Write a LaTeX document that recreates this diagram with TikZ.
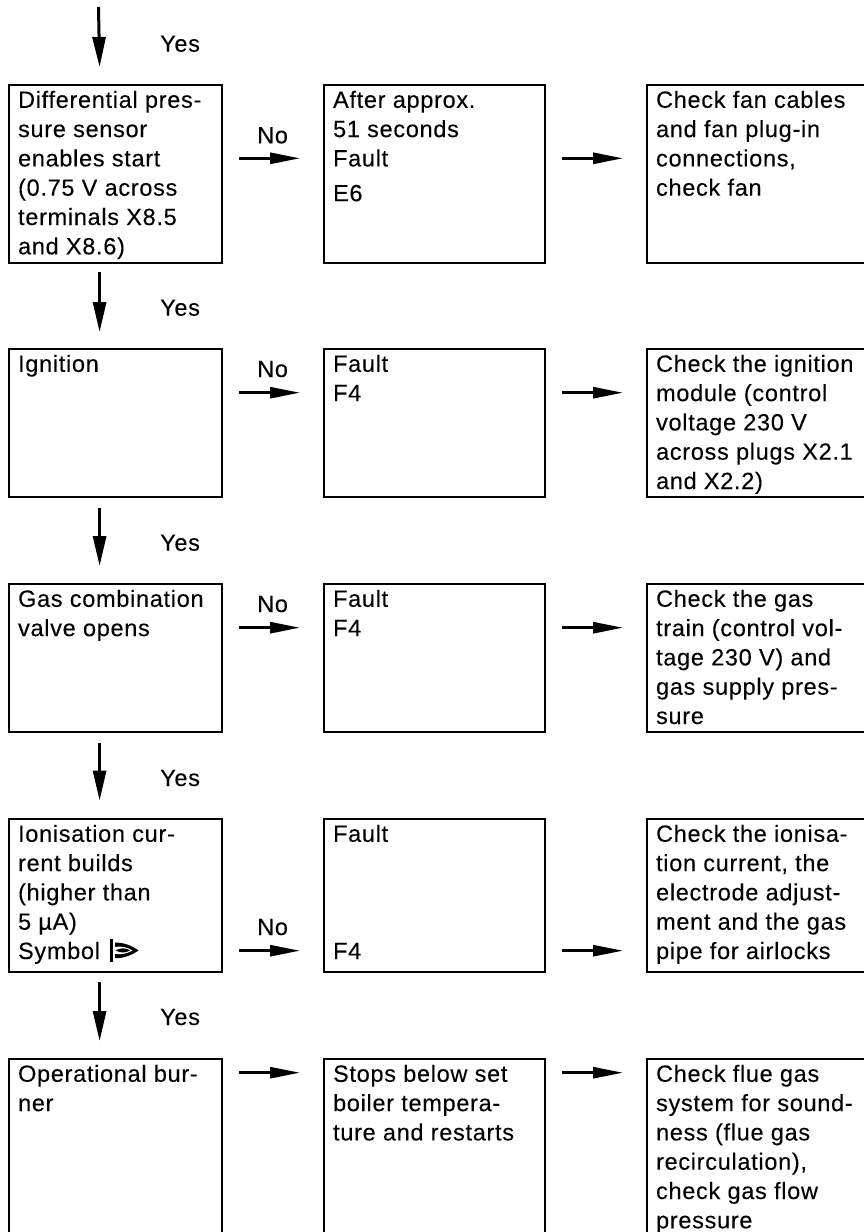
\documentclass[tikz,border=0pt]{standalone}
\usepackage{fontspec}
\setmainfont[LetterSpace=3,FakeBold=0.12]{Liberation Sans}
\usetikzlibrary{arrows.meta}
\newcommand{\boxtxt}[3]{\parbox[c][#1pt][t]{#2pt}{\raggedright\baselineskip=29.3pt\rule{0pt}{22.7pt}#3}}
\tikzset{
  x=1pt,y=-1pt,
  every node/.style={font=\fontsize{23.5pt}{29.3pt}\selectfont,text=black},
  box/.style={draw=black,line width=2.2pt,rectangle,inner xsep=9pt,inner ysep=0pt,anchor=north west,align=left},
  lab/.style={anchor=base west,inner sep=0pt},
  vert/.style={line width=3pt,-{Stealth[length=30pt,width=13pt,inset=0pt]}},
  horz/.style={line width=2.8pt,-{Stealth[length=30pt,width=11pt,inset=0pt]}}
}
\begin{document}
\begin{tikzpicture}
\useasboundingbox (0,0) rectangle (864,1232);
\clip (0,0) rectangle (864,1232);
\fill[white] (0,0) rectangle (864,1232);
% column 1
\node[box] (a1) at (8,84)    {\boxtxt{178}{195}{Differential pres-\\sure sensor\\enables start\\(0.75 V across\\terminals X8.5\\and X8.6)}};
\node[box] (a2) at (8,348)   {\boxtxt{148}{195}{Ignition}};
\node[box] (a3) at (8,583)   {\boxtxt{148}{195}{Gas combination\\valve opens}};
\node[box] (a4) at (8,818)   {\boxtxt{153}{195}{Ionisation cur-\\rent builds\\(higher than\\5 µA)\\Symbol}};
\node[box] (a5) at (8,1058)  {\boxtxt{190}{195}{Operational bur-\\ner}};
% column 2
\node[box] (b1) at (323,84)   {\boxtxt{178}{203}{After approx.\\51 seconds\\Fault\\[5.5pt]E6}};
\node[box] (b2) at (323,348)  {\boxtxt{148}{203}{Fault\\F4}};
\node[box] (b3) at (323,583)  {\boxtxt{148}{203}{Fault\\F4}};
\node[box] (b4) at (323,818)  {\boxtxt{153}{203}{Fault\\[88pt]F4}};
\node[box] (b5) at (323,1058) {\boxtxt{190}{203}{Stops below set\\boiler tempera-\\ture and restarts}};
% column 3
\node[box] (c1) at (646,84)   {\boxtxt{178}{222}{Check fan cables\\and fan plug-in\\connections,\\check fan}};
\node[box] (c2) at (646,348)  {\boxtxt{148}{222}{Check the ignition\\module (control\\voltage 230 V\\across plugs X2.1\\and X2.2)}};
\node[box] (c3) at (646,583)  {\boxtxt{148}{222}{Check the gas\\train (control vol-\\tage 230 V) and\\gas supply pres-\\sure}};
\node[box] (c4) at (646,818)  {\boxtxt{153}{222}{Check the ionisa-\\tion current, the\\electrode adjust-\\ment and the gas\\pipe for airlocks}};
\node[box] (c5) at (646,1058) {\boxtxt{190}{222}{Check flue gas\\system for sound-\\ness (flue gas\\recirculation),\\check gas flow\\pressure}};
% free start of the first arrow
\coordinate (start) at (98.5,7);
% vertical connectors
\draw[vert] (start) -- ([xshift=-16pt,yshift=17pt]a1.north);
\draw[vert] ([xshift=-16pt,yshift=-8pt]a1.south) -- ([xshift=-16pt,yshift=16pt]a2.north);
\draw[vert] ([xshift=-16pt,yshift=-9.5pt]a2.south) -- ([xshift=-16pt,yshift=17pt]a3.north);
\draw[vert] ([xshift=-16pt,yshift=-9.5pt]a3.south) -- ([xshift=-16pt,yshift=17.5pt]a4.north);
\draw[vert] ([xshift=-16pt,yshift=-9pt]a4.south) -- ([xshift=-16pt,yshift=17pt]a5.north);
% horizontal connectors
\foreach \u/\v/\d in {a1/b1/74.3,a2/b2/44.7,a3/b3/44.7,a5/b5/14.7,b1/c1/74.3,b2/c2/44.7,b3/c3/44.7,b5/c5/14.7}{
  \draw[horz] ([xshift=16pt,yshift=-\d pt]\u.north east) -- ([xshift=-23pt,yshift=-\d pt]\v.north west);
}
\foreach \u/\v in {a4/b4,b4/c4}{
  \draw[horz] ([xshift=16pt,yshift=-132.7pt]\u.north east) -- ([xshift=-23pt,yshift=-132.7pt]\v.north west);
}
% labels
\node[lab] (y1) at (160,51.7)  {Yes};
\node[lab] (y2) at (160,315.7) {Yes};
\node[lab] (y3) at (160,550.7) {Yes};
\node[lab] (y4) at (160,786)   {Yes};
\node[lab] (y5) at (160,1025)  {Yes};
\node[lab] (n1) at (257,143.3) {No};
\node[lab] (n2) at (257,377)   {No};
\node[lab] (n3) at (257,612)   {No};
\node[lab] (n4) at (257,935)   {No};
% flame symbol
\fill[black] (110,939.3) rectangle (113.4,961.7);
\fill[black] (115,942.6) .. controls (125,942.4) and (133,946.5) .. (138.5,950.4) .. controls (133,954.3) and (125,958.4) .. (115,958.2) -- cycle;
\fill[white] (115,947) .. controls (120,945.8) and (127,947) .. (132.5,950.4) .. controls (127,953.8) and (120,955) .. (115,953.8) -- cycle;
\fill[black] (115.5,950.4) .. controls (120,947.6) and (126,947.8) .. (130,950.4) .. controls (126,953) and (120,953.2) .. (115.5,950.4) -- cycle;
\end{tikzpicture}
\end{document}
